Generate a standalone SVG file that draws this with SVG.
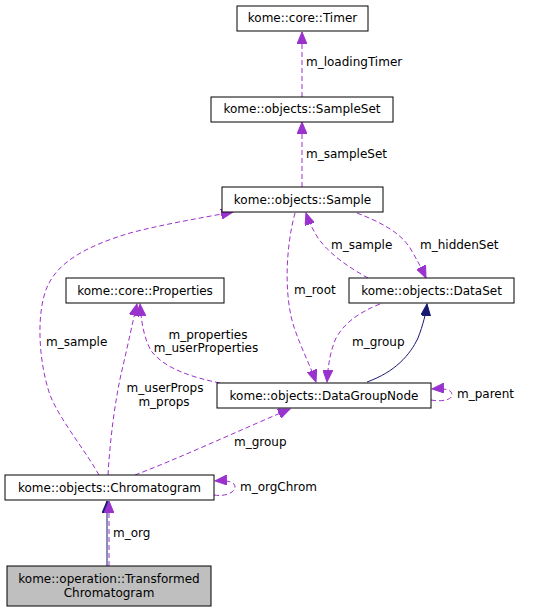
<svg xmlns="http://www.w3.org/2000/svg" width="548" height="613" viewBox="0 0 548 613">
<style>
text{font-family:"DejaVu Sans","Liberation Sans",sans-serif;font-size:12px;fill:#000}
.n rect{fill:#fff;stroke:#000;stroke-width:1}
.n text{text-anchor:middle}
.d{fill:none;stroke:#9a32cd;stroke-width:1;stroke-dasharray:5,3;marker-end:url(#ap)}
.s{fill:none;stroke:#191970;stroke-width:1;marker-end:url(#an)}
</style>
<defs>
<marker id="ap" markerUnits="userSpaceOnUse" markerWidth="14" markerHeight="10" refX="12" refY="5" orient="auto"><path d="M0,0 L12,5 L0,10 z" fill="#9a32cd" stroke="#9a32cd"/></marker>
<marker id="an" markerUnits="userSpaceOnUse" markerWidth="14" markerHeight="10" refX="12" refY="5" orient="auto"><path d="M0,0 L12,5 L0,10 z" fill="#191970" stroke="#191970"/></marker>
</defs>
<rect width="548" height="613" fill="#fff"/>
<g id="edges">
<path class="d" d="M302,97 L302,32"/>
<path class="d" d="M302,187 L302,122"/>
<path class="d" d="M99,475 C85,450 60,420 50,395 C38,360 36,310 48,285 C60,260 90,245 130,233 C160,225 200,218 233,212"/>
<path class="d" d="M295,213 C285,250 284,300 295,330 C302,350 310,365 316,382"/>
<path class="d" d="M368,278 C350,268 330,255 318,238 C313,230 309,222 306,213"/>
<path class="d" d="M357,213 C380,222 400,232 410,248 C416,258 421,267 426,278"/>
<path class="d" d="M380,304 C360,312 345,322 336,338 C330,352 328,366 327,382"/>
<path class="s" d="M367,382 C395,372 410,355 418,338 C423,325 426,313 427,304"/>
<path class="d" d="M220,383 C190,377 165,368 152,352 C144,340 141,320 140,304"/>
<path class="d" d="M108,475 C110,440 115,400 122,370 C128,345 133,320 137,304"/>
<path class="d" d="M135,475 C180,458 240,430 290,409"/>
<path class="d" d="M431,400 C441,402 452,400 452,395 C452,390 446,388 432,389"/>
<path class="d" d="M214,495 C226,497 235,492 235,487 C235,482 228,480 215,481"/>
<path class="s" d="M107,566 L107,501"/>
<path class="d" d="M109,566 L109,501"/>
<text x="306" y="66">m_loadingTimer</text>
<text x="306" y="158">m_sampleSet</text>
<text x="46" y="346">m_sample</text>
<text x="294" y="294">m_root</text>
<text x="331" y="249">m_sample</text>
<text x="420" y="249">m_hiddenSet</text>
<text x="352" y="346">m_group</text>
<text x="208" y="339" text-anchor="middle">m_properties</text>
<text x="206" y="352" text-anchor="middle">m_userProperties</text>
<text x="165" y="392" text-anchor="middle">m_userProps</text>
<text x="164" y="406" text-anchor="middle">m_props</text>
<text x="234" y="446">m_group</text>
<text x="457" y="398">m_parent</text>
<text x="240" y="491">m_orgChrom</text>
<text x="113" y="537">m_org</text>
</g>
<g id="timer" class="n"><rect x="237" y="6" width="131" height="25"/><text x="302.5" y="22">kome::core::Timer</text></g>
<g id="sampleset" class="n"><rect x="211" y="97" width="182" height="25"/><text x="302" y="113">kome::objects::SampleSet</text></g>
<g id="sample" class="n"><rect x="222" y="187" width="161" height="25"/><text x="302.5" y="204">kome::objects::Sample</text></g>
<g id="properties" class="n"><rect x="66" y="278" width="158" height="25"/><text x="145" y="295">kome::core::Properties</text></g>
<g id="dataset" class="n"><rect x="349" y="278" width="165" height="25"/><text x="431.5" y="295">kome::objects::DataSet</text></g>
<g id="datagroupnode" class="n"><rect x="217" y="383" width="214" height="25"/><text x="324" y="400">kome::objects::DataGroupNode</text></g>
<g id="chromatogram" class="n"><rect x="5" y="475" width="209" height="25"/><text x="109.5" y="492">kome::objects::Chromatogram</text></g>
<g id="transformed" class="n"><rect x="7" y="566" width="204" height="40" style="fill:#bfbfbf"/><text x="109" y="583">kome::operation::Transformed</text><text x="109" y="597">Chromatogram</text></g>
</svg>
